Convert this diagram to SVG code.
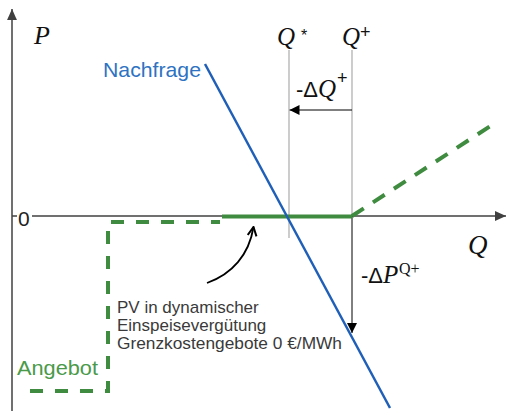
<svg xmlns="http://www.w3.org/2000/svg" width="507" height="414" viewBox="0 0 507 414">
<style>
.axis{stroke:#404040;stroke-width:1.5;fill:none}
.guide{stroke:#ababab;stroke-width:1.2;fill:none}
.arr{stroke:#000;stroke-width:1;fill:none}
.green{stroke:#3f8b3f;stroke-width:4;fill:none}
.dash{stroke-dasharray:13 12}
.math{font-family:"Liberation Serif","DejaVu Serif",serif;font-style:italic;fill:#111}
.sans{font-family:"Liberation Sans",Arial,sans-serif}
.note{font-family:"Liberation Sans",Arial,sans-serif;font-size:17px;fill:#3a3a3a}
</style>
<defs>
<marker id="tri" viewBox="0 0 10 10" refX="10" refY="5" markerWidth="10" markerHeight="10" markerUnits="userSpaceOnUse" orient="auto">
<path d="M0,0 L10,5 L0,10 z" fill="#000"/>
</marker>
<marker id="triAxis" viewBox="0 0 10 10" refX="10" refY="5" markerWidth="11" markerHeight="11" markerUnits="userSpaceOnUse" orient="auto">
<path d="M0,0.5 L10,5 L0,9.5 z" fill="#404040"/>
</marker>
<marker id="open" viewBox="0 0 10 10" refX="9" refY="5" markerWidth="11" markerHeight="11" markerUnits="userSpaceOnUse" orient="auto">
<path d="M1,1 L9,5 L1,9" fill="none" stroke="#000" stroke-width="1.8"/>
</marker>
</defs>

<g id="axes">
<line class="axis" x1="12" y1="411" x2="12" y2="9" marker-end="url(#triAxis)"/>
<line class="axis" x1="12" y1="216" x2="506" y2="216" marker-end="url(#triAxis)"/>
<rect x="17" y="207" width="15" height="19" fill="#fff"/>
<text class="sans" x="18" y="226" font-size="21" fill="#222">0</text>
<text class="math" x="34" y="44" font-size="26">P</text>
<text class="math" x="468" y="254" font-size="27">Q</text>
</g>

<g id="guides">
<line class="guide" x1="289" y1="50" x2="289" y2="238"/>
<line class="guide" x1="352" y1="50" x2="352" y2="216"/>
<text class="math" x="277" y="45" font-size="25">Q</text>
<text class="sans" x="301" y="41" font-size="16" fill="#111">*</text>
<text class="math" x="342" y="45" font-size="25">Q</text>
<text class="sans" x="360" y="38" font-size="18" fill="#111">+</text>
</g>

<g id="connectors">
<line class="arr" x1="352" y1="110" x2="289.5" y2="110" marker-end="url(#tri)"/>
<line class="arr" x1="352" y1="216" x2="352" y2="333" marker-end="url(#tri)"/>
<path d="M207,283 C232,274 249,255 253.5,227" fill="none" stroke="#000" stroke-width="1.8" marker-end="url(#open)"/>
</g>

<g id="deltaQ">
<text x="296" y="97" font-size="22" fill="#111"><tspan class="sans">-Δ</tspan><tspan class="math" font-size="25">Q</tspan></text>
<text class="sans" x="337" y="84" font-size="18" fill="#111">+</text>
</g>

<g id="deltaP">
<text x="361" y="283" font-size="22" fill="#111"><tspan class="sans">-Δ</tspan><tspan class="math" font-size="25">P</tspan></text>
<text x="399" y="274" font-size="16" fill="#111" font-family="Liberation Serif,serif">Q+</text>
</g>

<g id="supply">
<path class="green dash" d="M30,391 H108 V222 H220"/>
<line class="green" x1="222" y1="216.5" x2="352" y2="216.5"/>
<path class="green" d="M352,216 L495,123" stroke-dasharray="14 11"/>
<text class="sans" x="17" y="375" font-size="21" fill="#4a9a4a" textLength="81" lengthAdjust="spacingAndGlyphs">Angebot</text>
</g>

<g id="demand">
<line x1="205" y1="64" x2="390" y2="408" stroke="#1f5fb8" stroke-width="2.5"/>
<text class="sans" x="103" y="77" font-size="21" fill="#2e72c2" textLength="98" lengthAdjust="spacingAndGlyphs">Nachfrage</text>
</g>

<g id="note">
<text class="note" x="117" y="313">PV in dynamischer</text>
<text class="note" x="117" y="331">Einspeisevergütung</text>
<text class="note" x="117" y="349" textLength="225" lengthAdjust="spacingAndGlyphs">Grenzkostengebote 0 €/MWh</text>
</g>
</svg>
